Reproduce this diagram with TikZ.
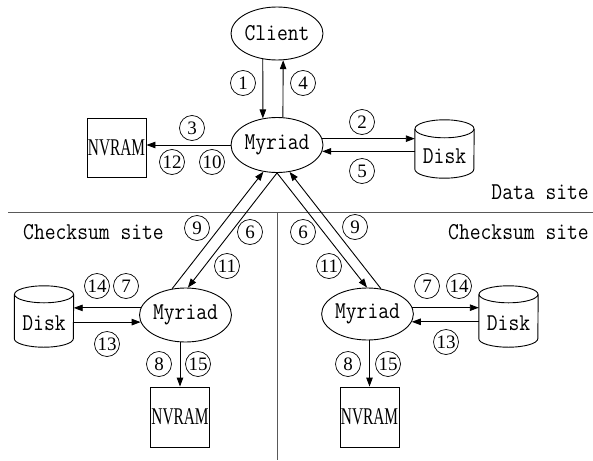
\documentclass[tikz,border=0pt]{standalone}
\usepackage{fontspec}
\usetikzlibrary{arrows.meta,shapes.geometric}
\newfontfamily\numfont{Liberation Serif}
\newcommand\mytt{\ttfamily\fontsize{21}{21}\selectfont}
\newcommand\tx[1]{\scalebox{1}[1.15]{#1}}
\newcommand\nvtext{\scalebox{0.64}[1]{\numfont\fontsize{24}{24}\selectfont NVRAM}}
\newcommand\drawdisk[2]{%
  \draw[line width=0.9pt] ([yshift=-#2]#1.north west) -- ([yshift=#2]#1.south west)
    arc[start angle=180,end angle=360,x radius=29.5pt,y radius=#2]
    -- ([yshift=-#2]#1.north east);
  \draw[line width=0.9pt] ([yshift=-#2]#1.north) ellipse [x radius=29.5pt, y radius=#2];}
\begin{document}
\begin{tikzpicture}[x=1pt,y=-1pt,
  ell/.style={draw, ellipse, line width=0.9pt, inner sep=0pt, minimum width=92pt, minimum height=54pt, font=\mytt},
  nvbox/.style={draw, rectangle, line width=0.9pt, minimum width=59pt, minimum height=59pt, inner sep=0pt},
  diskbox/.style={rectangle, minimum width=59pt, minimum height=60pt, inner sep=0pt, text height=28pt, text depth=0pt, font=\mytt},
  num/.style={draw, circle, line width=0.7pt, minimum size=25pt, inner sep=0pt, font=\numfont\fontsize{19}{19}\selectfont},
  arr/.style={-{Triangle[length=9pt,width=6.5pt]}, line width=0.9pt},
  lbl/.style={font=\mytt, inner sep=0pt},
  sep/.style={draw=black!65, line width=1pt}]
\useasboundingbox (0,0) rectangle (593,460);
\fill[white] (0,0) rectangle (593,460);

% separators
\draw[sep] (8,212) -- (593,212);
\draw[sep] (277,212) -- (277,460);

% data site
\node[ell, minimum height=53pt] (client) at (277,33.5) {\tx{Client}};
\node[ell, minimum height=55pt] (myr) at (277,145) {\tx{Myriad}};
\node[nvbox] (nv) at (116.5,147.5) {\nvtext};
\node[diskbox, minimum height=58pt] (disk) at (444.5,149) {\tx{Disk}};
\drawdisk{disk}{9pt}

% checksum sites
\node[ell] (myrL) at (185.5,315) {\tx{Myriad}};
\node[diskbox, minimum height=61pt] (diskL) at (44,316.5) {\tx{Disk}};
\drawdisk{diskL}{8.5pt}
\node[nvbox, minimum height=60pt] (nvL) at (180,417) {\nvtext};

\node[ell, minimum width=91pt, minimum height=52pt] (myrR) at (367.5,314) {\tx{Myriad}};
\node[diskbox, minimum height=61pt] (diskR) at (508.5,316.5) {\tx{Disk}};
\drawdisk{diskR}{8.5pt}
\node[nvbox, minimum height=60pt] (nvR) at (369.5,417) {\nvtext};

% texts
\node[lbl, anchor=east] (ds) at (589,192) {\tx{Data site}};
\node[lbl, anchor=west] (csL) at (23,232) {\tx{Checksum site}};
\node[lbl, anchor=east] (csR) at (589,232) {\tx{Checksum site}};

% arrows top
\draw[arr] (client.241) -- (myr.118);
\draw[arr] (myr.78) -- (client.283);
\draw[arr] (myr.west) -- (myr.west -| nv.east);
\draw[arr] (myr.8) -- (myr.8 -| disk.west);
\draw[arr] (myr.352 -| disk.west) -- (myr.352);

% diagonals
\draw[arr] (myr.south) -- (myrL.85);
\draw[arr] (myrL.117) -- (myr.243);
\draw[arr] (myr.south) -- (myrR.91);
\draw[arr] (myrR.62) -- (myr.295);

% lower left
\draw[arr] (myrL.171) -- (myrL.171 -| diskL.east);
\draw[arr] (myrL.189 -| diskL.east) -- (myrL.189);
\draw[arr] (nvL.north |- myrL.south) -- (nvL.north);

% lower right
\draw[arr] (myrR.8) -- (myrR.8 -| diskR.west);
\draw[arr] (myrR.350 -| diskR.west) -- (myrR.350);
\draw[arr] (nvR.north |- myrR.south) -- (nvR.north);

% circled numbers
\node[num] (n1) at (243,83) {1};
\node[num] (n4) at (303,83) {4};
\node[num] (n3) at (192,128) {3};
\node[num] (n12) at (172,162) {12};
\node[num] (n10) at (212,162) {10};
\node[num] (n2) at (362,122) {2};
\node[num] (n5) at (362,171) {5};
\node[num] (n9L) at (197,228) {9};
\node[num] (n6L) at (250,232) {6};
\node[num] (n11L) at (227,266) {11};
\node[num] (n6R) at (303,232) {6};
\node[num] (n9R) at (355,227) {9};
\node[num] (n11R) at (329,266) {11};
\node[num] (n14L) at (97,286) {14};
\node[num] (n7L) at (126,286) {7};
\node[num] (n13L) at (107,344) {13};
\node[num] (n8L) at (159,364) {8};
\node[num] (n15L) at (198,364) {15};
\node[num] (n7R) at (427,286) {7};
\node[num] (n14R) at (459,286) {14};
\node[num] (n13R) at (446,342) {13};
\node[num] (n8R) at (348,364) {8};
\node[num] (n15R) at (388,364) {15};
\end{tikzpicture}
\end{document}
